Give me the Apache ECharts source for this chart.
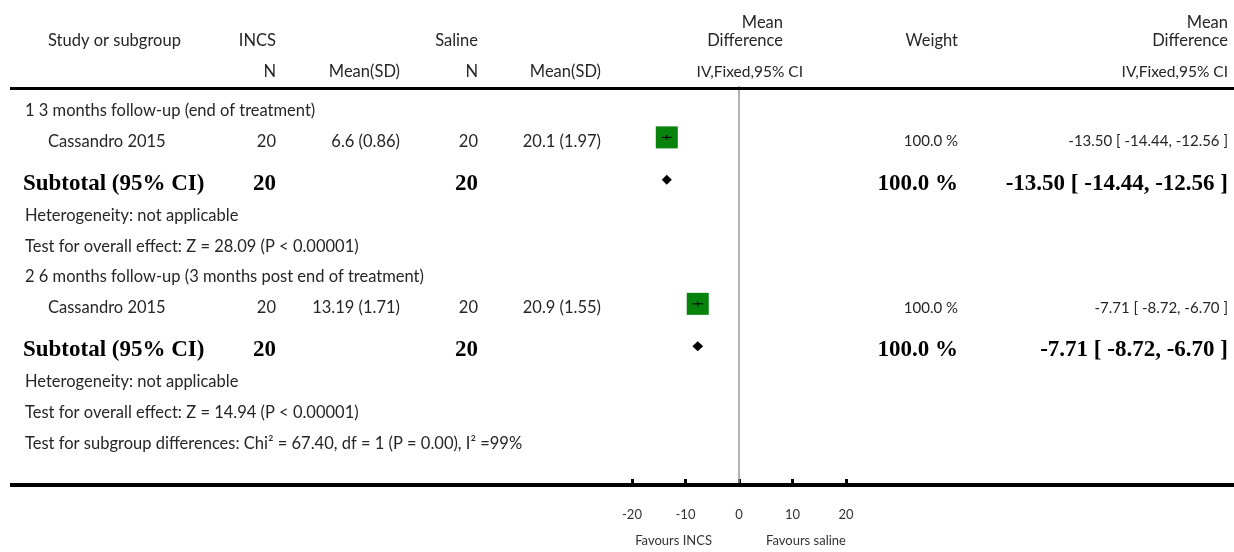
<!DOCTYPE html>
<html><head><meta charset="utf-8">
<script src="https://cdn.jsdelivr.net/npm/echarts@6/dist/echarts.min.js"></script>
<style>html,body{margin:0;padding:0;background:#fff}#c{width:1234px;height:552px}</style>
</head><body><div id="c"></div>
<script>
// ---------- data ----------
const groupTitles = ['1 3 months follow-up (end of treatment)', '2 6 months follow-up (3 months post end of treatment)'];
const studyNames = ['Cassandro 2015', 'Cassandro 2015'];
const studyGroup = [0, 1];
const incsN = [20, 20];
const incsMeanSD = ['6.6 (0.86)', '13.19 (1.71)'];
const salineN = [20, 20];
const salineMeanSD = ['20.1 (1.97)', '20.9 (1.55)'];
const studyMD = [-13.50, -7.71];
const studyLow = [-14.44, -8.72];
const studyHigh = [-12.56, -6.70];
const studyWeight = ['100.0 %', '100.0 %'];
const subIncsN = [20, 20];
const subSalineN = [20, 20];
const subMD = [-13.50, -7.71];
const subLow = [-14.44, -8.72];
const subHigh = [-12.56, -6.70];
const subWeight = ['100.0 %', '100.0 %'];
const heterogeneity = ['Heterogeneity: not applicable', 'Heterogeneity: not applicable'];
const overallEffect = ['Test for overall effect: Z = 28.09 (P < 0.00001)', 'Test for overall effect: Z = 14.94 (P < 0.00001)'];
const subgroupTest = 'Test for subgroup differences: Chi² = 67.40, df = 1 (P = 0.00), I² =99%';
const xTicks = [-20, -10, 0, 10, 20];
const favourLeft = 'Favours INCS';
const favourRight = 'Favours saline';

// ---------- layout ----------
const fmt = v => v.toFixed(2);
const ciText = (m, l, h) => fmt(m) + ' [ ' + fmt(l) + ', ' + fmt(h) + ' ]';
const rows = [];
groupTitles.forEach((t, g) => {
  rows.push({type: 'group', g});
  studyNames.forEach((s, i) => { if (studyGroup[i] === g) rows.push({type: 'study', i}); });
  rows.push({type: 'subtotal', g});
  rows.push({type: 'het', g});
  rows.push({type: 'test', g});
});
rows.push({type: 'subgroup'});
let pos = 0.8;
rows.forEach((r, k) => {
  if (k > 0) {
    const prev = rows[k - 1];
    pos += r.type === 'subtotal' ? 1.38 : (prev.type === 'subtotal' ? 1.03 : 1.0);
  }
  r.pos = pos;
});
const studyRows = rows.filter(r => r.type === 'study');
const subRows = rows.filter(r => r.type === 'subtotal');

const FONT = 'Lato, "DejaVu Sans", sans-serif';
const SERIF = '"Liberation Serif", "DejaVu Serif", serif';
const TXT = '#262626';
const BODY = 16.5;
const MARK_OFF = -4;

const chart = echarts.init(document.getElementById('c'), null, {renderer: 'canvas'});
const option = {
  animation: false,
  backgroundColor: '#fff',
  grid: {left: 632, right: 388, top: 86, bottom: 66},
  xAxis: {
    type: 'value', min: -20, max: 20, interval: 10, position: 'bottom',
    axisLine: {show: false, onZero: false},
    axisTick: {show: true, inside: true, length: 7, lineStyle: {color: '#000', width: 3}},
    axisLabel: {fontFamily: FONT, fontSize: 13, color: '#333', margin: 22,
      formatter: v => xTicks.includes(v) ? String(v) : ''},
    splitLine: {show: false}
  },
  yAxis: {type: 'value', min: 0, max: 13, inverse: true, show: false},
  series: [
    {
      type: 'scatter', symbol: 'rect', symbolSize: 22, symbolOffset: [0, MARK_OFF],
      itemStyle: {color: '#07820a', opacity: 1}, z: 3, silent: true,
      data: studyRows.map(r => [studyMD[r.i], r.pos]),
      markLine: {silent: true, symbol: 'none', label: {show: false},
        lineStyle: {color: '#999', width: 1.5, type: 'solid'}, data: [{xAxis: 0}], z: 1}
    },
    {
      type: 'custom', z: 4, silent: true,
      encode: {x: [0, 1, 2], y: 3},
      data: studyRows.map(r => [studyLow[r.i], studyHigh[r.i], studyMD[r.i], r.pos]),
      renderItem: (params, api) => {
        const a = api.coord([api.value(0), api.value(3)]);
        const b = api.coord([api.value(1), api.value(3)]);
        const m = api.coord([api.value(2), api.value(3)]);
        const y = a[1] + MARK_OFF;
        return {type: 'group', children: [
          {type: 'line', shape: {x1: a[0], y1: y, x2: b[0], y2: y}, style: {stroke: '#000', lineWidth: 1}},
          {type: 'line', shape: {x1: m[0], y1: y - 2.5, x2: m[0], y2: y + 2.5}, style: {stroke: '#000', lineWidth: 1}}
        ]};
      }
    },
    {
      type: 'custom', z: 4, silent: true,
      encode: {x: [0, 1, 2], y: 3},
      data: subRows.map(r => [subLow[r.g], subHigh[r.g], subMD[r.g], r.pos]),
      renderItem: (params, api) => {
        const a = api.coord([api.value(0), api.value(3)]);
        const b = api.coord([api.value(1), api.value(3)]);
        const m = api.coord([api.value(2), api.value(3)]);
        const y = a[1] + MARK_OFF;
        return {type: 'polygon', shape: {points: [[a[0], y], [m[0], y - 5], [b[0], y], [m[0], y + 5]]},
          style: {fill: '#000'}};
      }
    }
  ]
};
chart.setOption(option);

// ---------- table text ----------
const Y = p => chart.convertToPixel({yAxisIndex: 0}, p);
const X = v => chart.convertToPixel({xAxisIndex: 0}, v);
const g = [];
function txt(text, x, y, align, opts) {
  opts = opts || {};
  g.push({type: 'text', x: x, y: y, silent: true, z: 10,
    style: {text: String(text), align: align || 'left', verticalAlign: 'middle',
      fill: opts.fill || TXT,
      font: (opts.bold ? 'bold ' : '') + (opts.size || BODY) + 'px ' + (opts.family || FONT)}});
}
// header
txt('Study or subgroup', 48, 41, 'left');
txt('INCS', 276, 41, 'right');
txt('Saline', 478, 41, 'right');
txt('Mean', 783, 23, 'right');
txt('Difference', 783, 41, 'right');
txt('Weight', 958, 41, 'right');
txt('Mean', 1228, 23, 'right');
txt('Difference', 1228, 41, 'right');
txt('N', 276, 72, 'right');
txt('Mean(SD)', 400, 72, 'right');
txt('N', 478, 72, 'right');
txt('Mean(SD)', 601, 72, 'right');
txt('IV,Fixed,95% CI', 803, 72, 'right', {size: 15.5});
txt('IV,Fixed,95% CI', 1228, 72, 'right', {size: 15.5});
g.push({type: 'line', silent: true, z: 2, shape: {x1: 10, y1: 88.5, x2: 1234, y2: 88.5}, style: {stroke: '#000', lineWidth: 3}});
g.push({type: 'line', silent: true, z: 2, shape: {x1: 10, y1: 485, x2: 1234, y2: 485}, style: {stroke: '#000', lineWidth: 4}});

rows.forEach(r => {
  const y = Y(r.pos);
  if (r.type === 'group') txt(groupTitles[r.g], 25, y, 'left');
  else if (r.type === 'study') {
    const i = r.i;
    txt(studyNames[i], 48, y, 'left');
    txt(incsN[i], 276, y, 'right');
    txt(incsMeanSD[i], 400, y, 'right');
    txt(salineN[i], 478, y, 'right');
    txt(salineMeanSD[i], 601, y, 'right');
    txt(studyWeight[i], 958, y, 'right', {size: 15});
    txt(ciText(studyMD[i], studyLow[i], studyHigh[i]), 1228, y, 'right', {size: 15});
  } else if (r.type === 'subtotal') {
    const o = {bold: true, size: 23, family: SERIF, fill: '#000'};
    txt('Subtotal (95% CI)', 23, y, 'left', o);
    txt(subIncsN[r.g], 276, y, 'right', o);
    txt(subSalineN[r.g], 478, y, 'right', o);
    txt(subWeight[r.g], 958, y, 'right', o);
    txt(ciText(subMD[r.g], subLow[r.g], subHigh[r.g]), 1228, y, 'right', o);
  } else if (r.type === 'het') txt(heterogeneity[r.g], 25, y, 'left');
  else if (r.type === 'test') txt(overallEffect[r.g], 25, y, 'left');
  else if (r.type === 'subgroup') txt(subgroupTest, 25, y, 'left');
});
const x0 = X(0);
txt(favourLeft, x0 - 27, 541, 'right', {size: 13, fill: '#333'});
txt(favourRight, x0 + 27, 541, 'left', {size: 13, fill: '#333'});

chart.setOption({graphic: {elements: g}});
</script>
</body></html>
